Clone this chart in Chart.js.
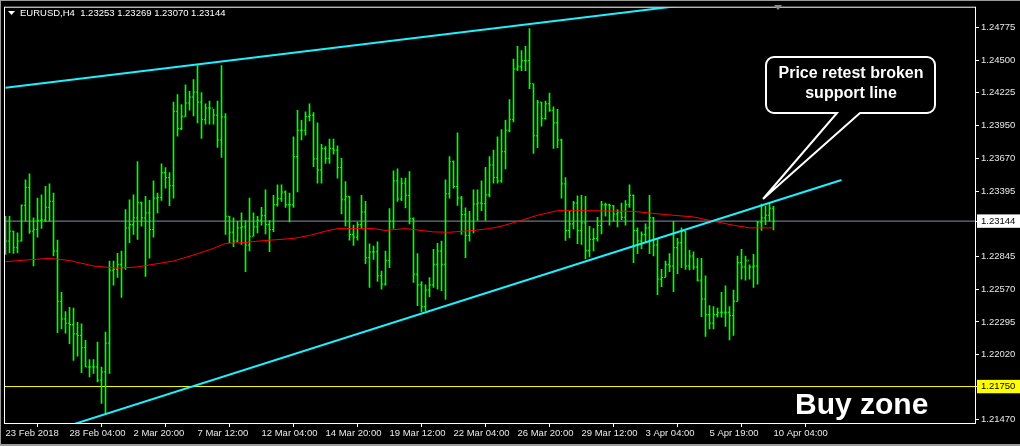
<!DOCTYPE html>
<html>
<head>
<meta charset="utf-8">
<title>EURUSD,H4</title>
<script src="https://cdn.jsdelivr.net/npm/chart.js@4.4.0/dist/chart.umd.min.js"></script>
<style>
  html, body { margin: 0; padding: 0; background: #000; overflow: hidden; }
  canvas { display: block; }
</style>
</head>
<body>
<canvas id="chart" width="1020" height="446"></canvas>
<script>
// H4 bars, one per 4 hours, index 0 = 23 Feb 2018 12:00
const openP = [
  1.22950, 1.22976, 1.23059, 1.22920, 1.22976, 1.23277, 1.23428, 1.23059, 1.23073, 1.23151,
  1.23154, 1.23260, 1.23310, 1.22892, 1.22468, 1.22320, 1.22284, 1.22273, 1.22194, 1.22180,
  1.22077, 1.21915, 1.21915, 1.21915, 1.21804, 1.21874, 1.22116, 1.22730, 1.22738, 1.22780,
  1.22752, 1.23087, 1.23115, 1.23171, 1.23302, 1.23171, 1.23213, 1.23073, 1.23338, 1.23344,
  1.23553, 1.23511, 1.23442, 1.24069, 1.23924, 1.24027, 1.24139, 1.24189, 1.24231, 1.24147,
  1.23999, 1.24097, 1.24097, 1.24036, 1.23827, 1.24022, 1.23185, 1.23051, 1.22976, 1.23087,
  1.23096, 1.22942, 1.23017, 1.23096, 1.23151, 1.23190, 1.23115, 1.23073, 1.23282, 1.23333,
  1.23389, 1.23282, 1.23282, 1.23687, 1.23910, 1.23910, 1.24027, 1.24036, 1.23668, 1.23575,
  1.23757, 1.23673, 1.23757, 1.23743, 1.23595, 1.23324, 1.23352, 1.23031, 1.23009, 1.23115,
  1.23221, 1.22836, 1.22884, 1.22886, 1.22683, 1.22613, 1.22814, 1.23143, 1.23483, 1.23330,
  1.23464, 1.23361, 1.23165, 1.22697, 1.22607, 1.22423, 1.22563, 1.22607, 1.22780, 1.22892,
  1.22780, 1.23375, 1.23645, 1.23436, 1.23338, 1.23199, 1.23023, 1.23065, 1.23288, 1.23296,
  1.23291, 1.23366, 1.23617, 1.23511, 1.23483, 1.23729, 1.23910, 1.23999, 1.24426, 1.24449,
  1.24496, 1.24496, 1.24301, 1.23863, 1.24147, 1.24008, 1.24133, 1.24078, 1.23972, 1.23827,
  1.23458, 1.23065, 1.23121, 1.23296, 1.23065, 1.23129, 1.22897, 1.22990, 1.22998, 1.23107,
  1.23282, 1.23282, 1.23274, 1.23204, 1.23221, 1.23176, 1.23282, 1.23361, 1.23065, 1.22976,
  1.23031, 1.23087, 1.23171, 1.22942, 1.22655, 1.22669, 1.22780, 1.22766, 1.22920, 1.22962,
  1.23059, 1.22766, 1.22850, 1.22758, 1.22646, 1.22487, 1.22356, 1.22284, 1.22356, 1.22376,
  1.22376, 1.22376, 1.22348, 1.22468, 1.22794, 1.22758, 1.22814, 1.22758, 1.22766, 1.23135,
  1.23171, 1.23193, 1.23253
];
const highP = [
  1.23185, 1.23185, 1.23059, 1.23045, 1.23282, 1.23492, 1.23542, 1.23171, 1.23338, 1.23366,
  1.23436, 1.23458, 1.23380, 1.22984, 1.22543, 1.22381, 1.22418, 1.22412, 1.22292, 1.22278,
  1.22139, 1.21977, 1.21977, 1.22125, 1.21915, 1.22208, 1.22808, 1.22808, 1.22872, 1.22892,
  1.23241, 1.23324, 1.23366, 1.23645, 1.23305, 1.23352, 1.23319, 1.23483, 1.23380, 1.23626,
  1.23595, 1.23553, 1.24147, 1.24209, 1.24125, 1.24292, 1.24237, 1.24337, 1.24454, 1.24226,
  1.24133, 1.24156, 1.24086, 1.24156, 1.24454, 1.24050, 1.23185, 1.23171, 1.23143, 1.23213,
  1.23149, 1.23338, 1.23213, 1.23185, 1.23260, 1.23408, 1.23149, 1.23361, 1.23450, 1.23450,
  1.23400, 1.23380, 1.23854, 1.24078, 1.23994, 1.24064, 1.24133, 1.24058, 1.23972, 1.23790,
  1.23771, 1.23835, 1.23835, 1.23779, 1.23673, 1.23478, 1.23352, 1.23110, 1.23135, 1.23361,
  1.23310, 1.22953, 1.22934, 1.22970, 1.22724, 1.22892, 1.23249, 1.23567, 1.23584, 1.23506,
  1.23506, 1.23561, 1.23171, 1.22870, 1.22635, 1.22607, 1.22669, 1.22906, 1.22956, 1.22976,
  1.23492, 1.23687, 1.23651, 1.23888, 1.23352, 1.23255, 1.23227, 1.23408, 1.23408, 1.23483,
  1.23598, 1.23687, 1.23743, 1.23854, 1.23916, 1.23994, 1.24167, 1.24510, 1.24616, 1.24580,
  1.24616, 1.24767, 1.24301, 1.24161, 1.24147, 1.24156, 1.24223, 1.24106, 1.24086, 1.23835,
  1.23511, 1.23227, 1.23310, 1.23358, 1.23361, 1.23352, 1.23101, 1.23082, 1.23176, 1.23310,
  1.23296, 1.23288, 1.23277, 1.23241, 1.23296, 1.23316, 1.23450, 1.23366, 1.23087, 1.23054,
  1.23121, 1.23361, 1.23176, 1.22990, 1.22738, 1.22808, 1.22870, 1.23143, 1.22998, 1.23087,
  1.23060, 1.22897, 1.22886, 1.22831, 1.22831, 1.22683, 1.22432, 1.22423, 1.22412, 1.22543,
  1.22599, 1.22423, 1.22563, 1.22850, 1.22906, 1.22850, 1.22775, 1.22864, 1.23143, 1.23288,
  1.23269, 1.23296, 1.23269
];
const lowP = [
  1.22864, 1.22878, 1.22872, 1.22878, 1.22976, 1.23143, 1.23040, 1.22766, 1.23009, 1.23082,
  1.23140, 1.23143, 1.22850, 1.22203, 1.22236, 1.22200, 1.22111, 1.21971, 1.22007, 1.21868,
  1.21915, 1.21832, 1.21860, 1.21790, 1.21608, 1.21525, 1.21860, 1.22605, 1.22669, 1.22501,
  1.22738, 1.22962, 1.23031, 1.22990, 1.23101, 1.22677, 1.22831, 1.23009, 1.23213, 1.23319,
  1.23422, 1.23274, 1.23338, 1.23860, 1.23915, 1.24027, 1.24078, 1.24030, 1.23972, 1.23840,
  1.23960, 1.23960, 1.23960, 1.23765, 1.23681, 1.23031, 1.22962, 1.22928, 1.22970, 1.22948,
  1.22719, 1.22892, 1.23017, 1.23045, 1.23110, 1.23037, 1.22886, 1.23054, 1.23269, 1.23310,
  1.23260, 1.23137, 1.23260, 1.23389, 1.23827, 1.23868, 1.23988, 1.23603, 1.23464, 1.23464,
  1.23631, 1.23631, 1.23707, 1.23506, 1.23204, 1.23101, 1.22984, 1.22939, 1.22984, 1.23082,
  1.22786, 1.22585, 1.22822, 1.22635, 1.22571, 1.22605, 1.22752, 1.23082, 1.23310, 1.23316,
  1.23255, 1.23121, 1.22627, 1.22432, 1.22381, 1.22390, 1.22507, 1.22585, 1.22571, 1.22557,
  1.22485, 1.23338, 1.23422, 1.23277, 1.23031, 1.22836, 1.22976, 1.23045, 1.23149, 1.23232,
  1.23149, 1.23347, 1.23464, 1.23464, 1.23470, 1.23584, 1.23896, 1.23980, 1.24412, 1.24412,
  1.24412, 1.24259, 1.23715, 1.23762, 1.23944, 1.24002, 1.24069, 1.23757, 1.23762, 1.23338,
  1.22981, 1.23003, 1.23079, 1.22953, 1.22948, 1.22828, 1.22842, 1.22892, 1.22976, 1.23037,
  1.23185, 1.23110, 1.23143, 1.23096, 1.23157, 1.23110, 1.23260, 1.22794, 1.22870, 1.22911,
  1.22962, 1.22870, 1.22850, 1.22524, 1.22591, 1.22669, 1.22719, 1.22549, 1.22702, 1.22752,
  1.22738, 1.22733, 1.22738, 1.22641, 1.22339, 1.22172, 1.22236, 1.22236, 1.22334, 1.22334,
  1.22256, 1.22144, 1.22180, 1.22468, 1.22655, 1.22646, 1.22655, 1.22585, 1.22613, 1.23065,
  1.23115, 1.23143, 1.23070
];
const closeP = [
  1.22976, 1.23059, 1.22920, 1.22976, 1.23277, 1.23428, 1.23059, 1.23073, 1.23151, 1.23154,
  1.23260, 1.23310, 1.22892, 1.22468, 1.22320, 1.22284, 1.22273, 1.22194, 1.22180, 1.22077,
  1.21915, 1.21915, 1.21915, 1.21804, 1.21874, 1.22116, 1.22730, 1.22738, 1.22780, 1.22752,
  1.23087, 1.23115, 1.23171, 1.23302, 1.23171, 1.23213, 1.23073, 1.23338, 1.23344, 1.23553,
  1.23511, 1.23442, 1.24069, 1.23924, 1.24027, 1.24139, 1.24189, 1.24231, 1.24147, 1.23999,
  1.24097, 1.24097, 1.24036, 1.23827, 1.24022, 1.23185, 1.23051, 1.22976, 1.23087, 1.23096,
  1.22942, 1.23017, 1.23096, 1.23151, 1.23190, 1.23115, 1.23073, 1.23282, 1.23333, 1.23389,
  1.23282, 1.23282, 1.23687, 1.23910, 1.23910, 1.24027, 1.24036, 1.23668, 1.23575, 1.23757,
  1.23673, 1.23757, 1.23743, 1.23595, 1.23324, 1.23352, 1.23031, 1.23009, 1.23115, 1.23221,
  1.22836, 1.22884, 1.22886, 1.22683, 1.22613, 1.22814, 1.23143, 1.23483, 1.23330, 1.23464,
  1.23361, 1.23165, 1.22697, 1.22607, 1.22423, 1.22563, 1.22607, 1.22780, 1.22892, 1.22780,
  1.23375, 1.23645, 1.23436, 1.23338, 1.23199, 1.23023, 1.23065, 1.23288, 1.23296, 1.23291,
  1.23366, 1.23617, 1.23511, 1.23483, 1.23729, 1.23910, 1.23999, 1.24426, 1.24449, 1.24496,
  1.24496, 1.24301, 1.23863, 1.24147, 1.24008, 1.24133, 1.24078, 1.23972, 1.23827, 1.23458,
  1.23065, 1.23121, 1.23296, 1.23065, 1.23129, 1.22897, 1.22990, 1.22998, 1.23107, 1.23282,
  1.23282, 1.23274, 1.23204, 1.23221, 1.23176, 1.23282, 1.23361, 1.23065, 1.22976, 1.23031,
  1.23087, 1.23171, 1.22942, 1.22655, 1.22669, 1.22780, 1.22766, 1.22920, 1.22962, 1.23059,
  1.22766, 1.22850, 1.22758, 1.22646, 1.22487, 1.22356, 1.22284, 1.22356, 1.22376, 1.22376,
  1.22376, 1.22348, 1.22468, 1.22794, 1.22758, 1.22814, 1.22758, 1.22766, 1.23135, 1.23171,
  1.23193, 1.23253, 1.23144
];

// moving average (red), sampled along the bars
const maBars = [0, 5, 11, 16, 22, 28, 33, 37, 42, 47, 52, 55, 60, 63, 72, 76, 80, 83, 92, 95,
  100, 107, 111, 117, 121, 124, 129, 133, 138, 145, 157, 165, 172, 177, 182, 186, 192];
const maValues = [1.22802, 1.22816, 1.22830, 1.22812, 1.22766, 1.22747, 1.22758, 1.22780, 1.22808, 1.22858,
  1.22914, 1.22956, 1.22964, 1.22975, 1.22998, 1.23023, 1.23059, 1.23081, 1.23081, 1.23065,
  1.23081, 1.23053, 1.23050, 1.23065, 1.23081, 1.23101, 1.23151, 1.23193, 1.23232, 1.23232,
  1.23226, 1.23199, 1.23179, 1.23143, 1.23109, 1.23087, 1.23087];

// trend lines (bar index, price)
const upperLineBars = [0, 170];
const upperLinePrices = [1.24267, 1.24964];
const lowerLineBars = [15, 209];
const lowerLinePrices = [1.21411, 1.23490];

const buyZoneLevel = 1.21750;

// axes
const xTickBars = [0, 16, 32, 48, 64, 80, 96, 112, 128, 144, 160, 176, 192];
const xTickLabels = ['23 Feb 2018', '28 Feb 04:00', '2 Mar 20:00', '7 Mar 12:00', '12 Mar 04:00',
  '14 Mar 20:00', '19 Mar 12:00', '22 Mar 04:00', '26 Mar 20:00', '29 Mar 12:00',
  '3 Apr 04:00', '5 Apr 19:00', '10 Apr 04:00'];
const yTickValues = [1.24775, 1.24500, 1.24225, 1.23950, 1.23670, 1.23395, 1.23144,
  1.22845, 1.22570, 1.22295, 1.22020, 1.21750, 1.21470];

const xMin = -0.125, xMax = 242.375;
const yMin = 1.21443, yMax = 1.24942;

const GREEN = '#00ff00';
const FONT = '"Liberation Sans", Arial, sans-serif';
const last = closeP.length - 1;
const bid = closeP[last];

function lineSet(pts, color, width, order) {
  return {
    type: 'line', data: pts, borderColor: color, borderWidth: width,
    pointRadius: 0, pointHoverRadius: 0, fill: false, tension: 0, order: order
  };
}
function tickSet(pts) {
  return {
    type: 'line', data: pts, showLine: false, pointStyle: 'line',
    pointRadius: 0.5, pointHoverRadius: 0.5, pointBorderWidth: 1,
    pointBorderColor: GREEN, pointBackgroundColor: GREEN, order: 4
  };
}

const hlBars = highP.map((h, i) => ({ x: i, y: [lowP[i], h] }));
const openTicks = openP.map((v, i) => ({ x: i - 0.25, y: v }));
const closeTicks = closeP.map((v, i) => ({ x: i + 0.25, y: v }));

const chartDecor = {
  id: 'chartDecor',
  beforeDraw(chart) {
    const c = chart.ctx;
    c.save();
    c.fillStyle = '#000';
    c.fillRect(0, 0, chart.width, chart.height);
    c.restore();
  },
  afterDraw(chart) {
    const c = chart.ctx;
    const ca = chart.chartArea;
    c.save();
    // outer window edge
    c.fillStyle = '#9a9a9a';
    c.fillRect(0, 0, chart.width, 1);
    c.fillRect(0, 0, 1, chart.height);
    c.fillRect(0, chart.height - 2, chart.width, 2);

    // chart frame
    c.strokeStyle = '#ffffff';
    c.lineWidth = 1;
    c.strokeRect(ca.left - 0.5, ca.top - 0.5, ca.right - ca.left + 1, ca.bottom - ca.top + 1);

    // shift marker at top
    c.fillStyle = '#8c8c8c';
    c.beginPath();
    c.moveTo(774, 5); c.lineTo(782, 5); c.lineTo(778, 10);
    c.closePath(); c.fill();

    // header
    c.fillStyle = '#ffffff';
    c.beginPath();
    c.moveTo(8, 11); c.lineTo(15, 11); c.lineTo(11.5, 15);
    c.closePath(); c.fill();
    c.font = '9.5px ' + FONT;
    c.textBaseline = 'alphabetic';
    c.textAlign = 'left';
    c.fillText('EURUSD,H4  ' + [openP[last], highP[last], lowP[last], closeP[last]]
      .map(v => v.toFixed(5)).join(' '), 20, 16);

    // callout
    const L = 766, R = 935, T = 57, B = 113, r = 8;
    const b1 = 837, b2 = 860, tipX = 763, tipY = 199;
    c.beginPath();
    c.moveTo(L + r, T);
    c.lineTo(R - r, T); c.arcTo(R, T, R, T + r, r);
    c.lineTo(R, B - r); c.arcTo(R, B, R - r, B, r);
    c.lineTo(b2, B); c.lineTo(tipX, tipY); c.lineTo(b1, B);
    c.lineTo(L + r, B); c.arcTo(L, B, L, B - r, r);
    c.lineTo(L, T + r); c.arcTo(L, T, L + r, T, r);
    c.closePath();
    c.fillStyle = '#000';
    c.fill();
    c.strokeStyle = '#ffffff';
    c.lineWidth = 2;
    c.stroke();

    c.fillStyle = '#ffffff';
    c.font = 'bold 16px ' + FONT;
    c.textAlign = 'center';
    c.textBaseline = 'middle';
    c.fillText('Price retest broken', 851, 74);
    c.fillText('support line', 851, 94);

    c.font = 'bold 30px ' + FONT;
    c.textAlign = 'left';
    c.textBaseline = 'alphabetic';
    c.fillText('Buy zone', 795, 414);
    c.restore();
  }
};

new Chart(document.getElementById('chart'), {
  data: {
    datasets: [
      lineSet([{ x: xMin, y: bid }, { x: xMax, y: bid }], '#8392a4', 1, 6),
      lineSet([{ x: xMin, y: buyZoneLevel }, { x: xMax, y: buyZoneLevel }], '#ffff00', 1, 6),
      {
        type: 'bar', data: hlBars, backgroundColor: GREEN, borderWidth: 0,
        barThickness: 1, grouped: false, order: 4
      },
      tickSet(openTicks),
      tickSet(closeTicks),
      lineSet(maBars.map((b, i) => ({ x: b, y: maValues[i] })), '#ff0000', 1, 2),
      lineSet(upperLineBars.map((b, i) => ({ x: b, y: upperLinePrices[i] })), '#1ff0ff', 2, 1),
      lineSet(lowerLineBars.map((b, i) => ({ x: b, y: lowerLinePrices[i] })), '#1ff0ff', 2, 1)
    ]
  },
  options: {
    responsive: false,
    animation: false,
    devicePixelRatio: 1,
    events: [],
    layout: { padding: { left: 5, top: 5, right: 0, bottom: 0 } },
    plugins: { legend: { display: false }, tooltip: { enabled: false } },
    scales: {
      x: {
        type: 'linear', position: 'bottom', min: xMin, max: xMax, offset: false,
        grid: { drawOnChartArea: false, drawTicks: true, tickLength: 4, color: '#ffffff' },
        border: { display: false },
        afterBuildTicks: s => { s.ticks = xTickBars.map(v => ({ value: v })); },
        afterFit: s => { s.height = 23; },
        ticks: {
          autoSkip: false, maxRotation: 0, minRotation: 0, align: 'start', padding: 1,
          color: '#e8e8e8', font: { family: FONT, size: 9.5 },
          callback: (v, i) => xTickLabels[i]
        }
      },
      y: {
        type: 'linear', position: 'right', min: yMin, max: yMax,
        grid: { drawOnChartArea: false, drawTicks: true, tickLength: 4, color: '#ffffff' },
        border: { display: false },
        afterBuildTicks: s => { s.ticks = yTickValues.map(v => ({ value: v })); },
        afterFit: s => { s.width = 45; },
        ticks: {
          padding: 2,
          font: { family: FONT, size: 9.5 },
          callback: v => v.toFixed(5),
          color: ctx => (ctx.tick && (ctx.tick.value === bid || ctx.tick.value === buyZoneLevel)) ? '#000000' : '#e8e8e8',
          showLabelBackdrop: ctx => !!(ctx.tick && (ctx.tick.value === bid || ctx.tick.value === buyZoneLevel)),
          backdropColor: ctx => (ctx.tick && ctx.tick.value === buyZoneLevel) ? '#ffff00' : '#ffffff',
          backdropPadding: { top: 1, bottom: 1, left: 4, right: 5 }
        }
      }
    }
  },
  plugins: [chartDecor]
});
</script>
</body>
</html>
